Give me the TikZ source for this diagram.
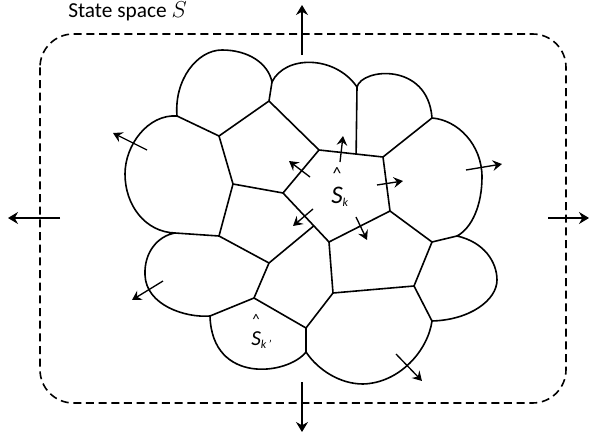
\documentclass[tikz,border=0pt]{standalone}
\usepackage{amsmath}
\usepackage{fontspec}
\setmainfont{Carlito}
\usetikzlibrary{arrows.meta, calc}

% Zellenname mit Dach, #1 = Index
\newcommand{\cellname}[1]{$\overset{\text{\raisebox{1.5pt}{\textasciicircum}}}{\textit{S}}_{\text{\fontsize{9}{9}\selectfont\itshape #1}}$}

\begin{document}
\begin{tikzpicture}[
    x=0.75pt, y=-0.75pt,
    font=\fontsize{16}{19}\selectfont,
    cell line/.style={line width=1.2pt, line join=round},
    state border/.style={line width=1.2pt, dash pattern=on 6pt off 3.5pt, rounded corners=25pt},
    out arrow/.style={line width=1.6pt, -{Stealth[length=7.5pt, width=9pt, inset=2.5pt]}},
    flow arrow/.style={line width=1pt, -{Stealth[length=7pt, width=8pt, inset=2.5pt]}},
    cell label/.style={anchor=base west, inner sep=0pt}
]
\useasboundingbox (0,0) rectangle (590,439);

% --- ZUSTANDSRAUM ---
\draw[state border] (40,34) rectangle (566,403);
\node[anchor=base west, inner sep=0pt] (title) at (68,17.5) {State space $S$};

% --- ECKPUNKTE ---
\coordinate (Y1) at (177,116);
\coordinate (Y2) at (272,82);
\coordinate (G) at (357,87);
\coordinate (I) at (432,118);
\coordinate (M) at (457,236);
\coordinate (N) at (432,321);
\coordinate (X) at (306,352);
\coordinate (V) at (210,316);
\coordinate (U) at (175,233);

\coordinate (A) at (269,101);
\coordinate (B) at (219,136);
\coordinate (C) at (233,184);
\coordinate (D) at (283,193);
\coordinate (E) at (319,150);
\coordinate (H) at (383,157);
\coordinate (J) at (390,211);
\coordinate (K) at (432,242);
\coordinate (L) at (414,286);
\coordinate (O) at (333,293);
\coordinate (P) at (329,242);
\coordinate (R) at (269,263);
\coordinate (S) at (219,236);
\coordinate (T) at (254,298);
\coordinate (W) at (306,328);
\coordinate (F) at ($(E)!0.58!(H)$);
\coordinate (Q) at ($(D)!0.67!(P)$);

% --- AEUSSERER RAND (Boegen) ---
\draw[cell line] (Y1) .. controls (174,80) and (197,50) .. (222,50)
    .. controls (248,50) and (268,63) .. (Y2)
    .. controls (285,55) and (335,55) .. (G)
    .. controls (362,68) and (428,62) .. (I)
    .. controls (458,120) and (482,145) .. (482,177)
    .. controls (482,205) and (472,228) .. (M)
    .. controls (484,242) and (497,262) .. (497,280)
    .. controls (497,300) and (470,320) .. (N)
    .. controls (428,350) and (400,383) .. (363,384)
    .. controls (340,384) and (318,370) .. (X)
    .. controls (288,375) and (212,385) .. (V)
    .. controls (185,318) and (146,305) .. (145,275)
    .. controls (144,252) and (158,236) .. (U)
    .. controls (145,232) and (125,205) .. (125,174)
    .. controls (125,145) and (148,114) .. (Y1);

% --- INNERE KANTEN ---
\draw[cell line] (Y1) -- (B) -- (A) -- (Y2);
\draw[cell line] (A) -- (E);
\draw[cell line] (D) -- (E) -- (H) -- (J) -- (P) -- cycle;
\draw[cell line] (B) -- (C) -- (D);
\draw[cell line] (C) -- (S) -- (U);
\draw[cell line] (F) -- (G);
\draw[cell line] (H) -- (I);
\draw[cell line] (J) -- (K) -- (M);
\draw[cell line] (K) -- (L) -- (N);
\draw[cell line] (Q) -- (R) -- (S);
\draw[cell line] (R) -- (T) -- (V);
\draw[cell line] (T) -- (W) -- (X);
\draw[cell line] (W) -- (O) -- (P);
\draw[cell line] (O) -- (L);

% --- PFEILE NACH AUSSEN ---
\draw[out arrow] (302,55) -- (302,5);
\draw[out arrow] (302,382) -- (302,432);
\draw[out arrow] (60,218) -- (8,218);
\draw[out arrow] (548,218) -- (589,218);

% --- PFEILE IN DEN ZELLEN ---
\draw[flow arrow] (147,150) -- (113,133);
\draw[flow arrow] (340,162) -- (343,136);
\draw[flow arrow] (310,177) -- (289,161);
\draw[flow arrow] (377,185) -- (403,181);
\draw[flow arrow] (313,209) -- (293,226);
\draw[flow arrow] (356,217) -- (367,240);
\draw[flow arrow] (466,170) -- (502,164);
\draw[flow arrow] (163,281) -- (132,300);
\draw[flow arrow] (396,354) -- (422,381);

% --- BESCHRIFTUNG ---
\node[cell label, font=\fontsize{19}{21}\selectfont] (sk) at (331,203) {\cellname{k}};
\node[cell label, font=\fontsize{16}{19}\selectfont] (skp) at (251,345) {\cellname{k\,'}};
\end{tikzpicture}
\end{document}
